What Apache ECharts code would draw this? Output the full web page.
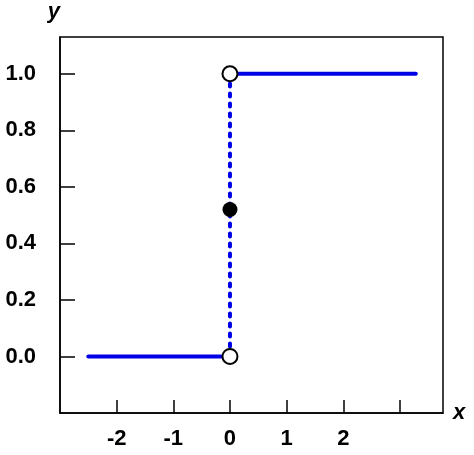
<!DOCTYPE html>
<html>
<head>
<meta charset="utf-8">
<script src="https://cdn.jsdelivr.net/npm/echarts@6/dist/echarts.min.js"></script>
<style>html,body{margin:0;padding:0;background:#fff}#c{width:474px;height:455px}</style>
</head>
<body>
<div id="c"></div>
<script>
// Data
const lowerSegment = [[-2.5, 0], [0, 0]];
const upperSegment = [[0, 1], [3.28, 1]];
const jumpSegment = [[0, 0], [0, 1]];
const openPoints = [[0, 0], [0, 1]];
const filledPoints = [[0, 0.52]];
const xTickLabels = [-2, -1, 0, 1, 2];
const xTickMarks = [-2, -1, 0, 1, 2, 3];
const yTickLabels = [0.0, 0.2, 0.4, 0.6, 0.8, 1.0];

const BLUE = '#0000e6';
const FONT = 'Liberation Sans, Arial, sans-serif';

const chart = echarts.init(document.getElementById('c'), null, {renderer: 'canvas'});
chart.setOption({
  animation: false,
  grid: {left: 60, right: 31, top: 37, bottom: 42, show: true, borderColor: '#000', borderWidth: 1.5, backgroundColor: 'transparent'},
  xAxis: {
    type: 'value', min: -3, max: 3.76, interval: 1,
    name: 'x', nameLocation: 'end', nameGap: 10,
    nameTextStyle: {fontFamily: FONT, fontSize: 22, fontWeight: 'bold', fontStyle: 'italic', color: '#000', verticalAlign: 'middle', padding: [8, 0, 0, 0]},
    axisLine: {show: true, onZero: false, lineStyle: {color: '#000', width: 1.5}},
    axisTick: {show: true, inside: true, length: 13, lineStyle: {color: '#000', width: 1.5},
      customValues: xTickMarks},
    axisLabel: {
      customValues: xTickLabels,
      margin: 15, fontFamily: FONT, fontSize: 22, fontWeight: 'bold', color: '#000',
      formatter: v => String(v)
    },
    splitLine: {show: false}
  },
  yAxis: {
    type: 'value', min: -0.2, max: 1.13, interval: 0.2,
    name: 'y', nameLocation: 'end', nameGap: 14,
    nameTextStyle: {fontFamily: FONT, fontSize: 22, fontWeight: 'bold', fontStyle: 'italic', color: '#000', align: 'right', padding: [0, 0, 0, 0]},
    axisLine: {show: true, onZero: false, lineStyle: {color: '#000', width: 1.5}},
    axisTick: {show: true, inside: true, length: 15, lineStyle: {color: '#000', width: 1.5},
      customValues: yTickLabels},
    axisLabel: {
      customValues: yTickLabels,
      margin: 24, fontFamily: FONT, fontSize: 22, fontWeight: 'bold', color: '#000',
      formatter: v => Number(v).toFixed(1)
    },
    splitLine: {show: false}
  },
  series: [
    {type: 'line', data: lowerSegment, showSymbol: false, symbol: 'none', lineStyle: {color: BLUE, width: 4, cap: 'round'}, z: 2},
    {type: 'line', data: upperSegment, showSymbol: false, symbol: 'none', lineStyle: {color: BLUE, width: 4, cap: 'round'}, z: 2},
    {type: 'line', data: jumpSegment, showSymbol: false, symbol: 'none', lineStyle: {color: BLUE, width: 4, type: [3, 7], cap: 'round'}, z: 2},
    {type: 'scatter', data: openPoints, symbol: 'circle', symbolSize: 15, itemStyle: {color: '#fff', borderColor: '#000', borderWidth: 2, opacity: 1}, z: 5},
    {type: 'scatter', data: filledPoints, symbol: 'circle', symbolSize: 15, itemStyle: {color: '#000', opacity: 1}, z: 5}
  ]
});
</script>
</body>
</html>
